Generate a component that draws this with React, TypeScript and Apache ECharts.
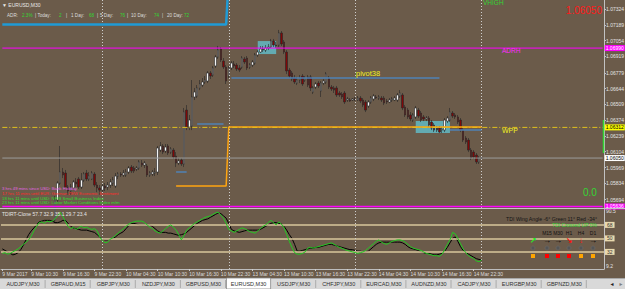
import React, { useEffect, useRef } from "react";
import * as echarts from "echarts";

// ---------- DATA ----------
const opens = [
  1.05480,1.05465,1.05490,1.05475,1.05500,1.05485,1.05505,1.05490,1.05470,1.05495,
  1.05515,1.05500,1.05485,1.05505,1.05520,1.05500,1.05480,1.05505,1.05495,1.05460,
  1.05520,1.05691,1.05836,1.05930,1.05922,1.05802,1.05768,1.05794,1.05845,1.05871,
  1.05802,1.05862,1.05922,1.05871,1.05871,1.05913,1.05819,1.05794,1.05776,1.05811,
  1.05802,1.05819,1.05836,1.05811,1.05896,1.05913,1.05905,1.05905,1.05930,1.05973,
  1.05965,1.05956,1.05965,1.06007,1.05990,1.05982,1.05905,1.05913,1.05922,1.05930,
  1.06118,1.06153,1.06110,1.06153,1.06101,1.06118,1.06067,1.06007,1.06033,1.05999,
  1.06460,1.06315,1.06324,1.06572,1.06580,1.06649,1.06674,1.06700,1.06708,1.06777,
  1.06760,1.06837,1.06914,1.06982,1.06879,1.06828,1.06751,1.06820,1.06854,1.06845,
  1.06820,1.06828,1.06897,1.06905,1.06828,1.06845,1.06862,1.06931,1.06956,1.06982,
  1.06973,1.06991,1.06999,1.07050,1.07016,1.07016,1.07119,1.07042,1.06956,1.06802,
  1.06777,1.06734,1.06691,1.06717,1.06751,1.06717,1.06743,1.06743,1.06614,1.06657,
  1.06691,1.06623,1.06691,1.06700,1.06734,1.06657,1.06649,1.06649,1.06606,1.06597,
  1.06606,1.06546,1.06546,1.06546,1.06555,1.06546,1.06563,1.06546,1.06529,1.06495,
  1.06529,1.06555,1.06572,1.06563,1.06563,1.06563,1.06537,1.06529,1.06546,1.06546,
  1.06546,1.06580,1.06589,1.06486,1.06460,1.06418,1.06375,1.06401,1.06460,1.06435,
  1.06401,1.06384,1.06392,1.06358,1.06332,1.06307,1.06307,1.06289,1.06289,1.06366,
  1.06375,1.06435,1.06418,1.06401,1.06375,1.06289,1.06221,1.06204,1.06118,1.06101,
  1.06076,1.06016,1.06050,
];
const closes = [
  1.05465,1.05490,1.05475,1.05500,1.05485,1.05505,1.05490,1.05470,1.05495,1.05515,
  1.05500,1.05485,1.05505,1.05520,1.05500,1.05480,1.05505,1.05495,1.05460,1.05520,
  1.05691,1.05836,1.05930,1.05905,1.05802,1.05768,1.05802,1.05845,1.05828,1.05802,
  1.05862,1.05913,1.05871,1.05896,1.05922,1.05819,1.05794,1.05776,1.05811,1.05794,
  1.05819,1.05845,1.05862,1.05896,1.05913,1.05905,1.05922,1.05930,1.05965,1.05939,
  1.05939,1.05965,1.06016,1.05990,1.06007,1.05905,1.05922,1.05930,1.05930,1.06136,
  1.06153,1.06101,1.06144,1.06093,1.06127,1.06059,1.06007,1.06025,1.05999,1.06443,
  1.06315,1.06375,1.06572,1.06614,1.06649,1.06683,1.06700,1.06717,1.06777,1.06751,
  1.06820,1.06914,1.06973,1.06888,1.06828,1.06708,1.06820,1.06862,1.06837,1.06811,
  1.06802,1.06905,1.06871,1.06820,1.06845,1.06871,1.06931,1.06956,1.06982,1.06973,
  1.06991,1.06999,1.07050,1.07016,1.07008,1.07119,1.07025,1.06956,1.06794,1.06751,
  1.06726,1.06700,1.06717,1.06734,1.06683,1.06734,1.06674,1.06649,1.06649,1.06683,
  1.06666,1.06691,1.06708,1.06768,1.06657,1.06640,1.06631,1.06589,1.06589,1.06572,
  1.06529,1.06555,1.06537,1.06555,1.06546,1.06563,1.06537,1.06503,1.06460,1.06529,
  1.06563,1.06580,1.06563,1.06572,1.06546,1.06520,1.06529,1.06546,1.06555,1.06563,
  1.06589,1.06606,1.06478,1.06418,1.06401,1.06384,1.06418,1.06478,1.06409,1.06375,
  1.06384,1.06392,1.06332,1.06307,1.06289,1.06289,1.06272,1.06298,1.06375,1.06392,
  1.06443,1.06409,1.06401,1.06358,1.06289,1.06204,1.06187,1.06118,1.06050,1.06059,
  1.06016,1.06050,1.06050,
];
const highs = [
  1.05500,1.05505,1.05510,1.05515,1.05520,1.05525,1.05520,1.05505,1.05510,1.05530,
  1.05535,1.05515,1.05520,1.05540,1.05535,1.05515,1.05520,1.05525,1.05510,1.05560,
  1.05725,1.05853,1.06153,1.05965,1.05948,1.05819,1.05828,1.05862,1.05879,1.05888,
  1.05922,1.05930,1.05948,1.05930,1.05939,1.05930,1.05845,1.05819,1.05828,1.05836,
  1.05845,1.05871,1.05888,1.05922,1.05930,1.05930,1.05948,1.05956,1.05982,1.05990,
  1.05982,1.05982,1.06033,1.06033,1.06025,1.05999,1.05939,1.05948,1.05965,1.06153,
  1.06187,1.06170,1.06170,1.06170,1.06144,1.06136,1.06101,1.06050,1.06050,1.06478,
  1.06503,1.06418,1.06717,1.06649,1.06674,1.06717,1.06734,1.06751,1.06794,1.06794,
  1.06837,1.06931,1.07008,1.06999,1.06905,1.06845,1.06837,1.06879,1.06879,1.06862,
  1.06845,1.06922,1.06914,1.06922,1.06862,1.06888,1.06948,1.06973,1.07008,1.07008,
  1.07016,1.07025,1.07068,1.07068,1.07042,1.07145,1.07136,1.07059,1.06973,1.06820,
  1.06794,1.06760,1.06743,1.06760,1.06768,1.06751,1.06760,1.06760,1.06666,1.06700,
  1.06708,1.06708,1.06726,1.06785,1.06751,1.06674,1.06666,1.06666,1.06623,1.06614,
  1.06623,1.06572,1.06563,1.06563,1.06572,1.06580,1.06580,1.06563,1.06546,1.06546,
  1.06580,1.06597,1.06589,1.06589,1.06580,1.06580,1.06555,1.06563,1.06572,1.06580,
  1.06606,1.06631,1.06606,1.06503,1.06478,1.06443,1.06435,1.06495,1.06478,1.06452,
  1.06418,1.06409,1.06409,1.06375,1.06349,1.06324,1.06324,1.06315,1.06392,1.06409,
  1.06478,1.06452,1.06435,1.06418,1.06392,1.06307,1.06238,1.06221,1.06136,1.06118,
  1.06093,1.06067,1.06050,
];
const lows = [
  1.05450,1.05455,1.05460,1.05465,1.05470,1.05475,1.05475,1.05455,1.05460,1.05485,
  1.05490,1.05470,1.05475,1.05495,1.05490,1.05465,1.05470,1.05480,1.05420,1.05380,
  1.05500,1.05674,1.05819,1.05879,1.05776,1.05734,1.05734,1.05776,1.05802,1.05785,
  1.05785,1.05845,1.05853,1.05853,1.05862,1.05802,1.05759,1.05734,1.05751,1.05768,
  1.05776,1.05794,1.05811,1.05794,1.05871,1.05888,1.05888,1.05888,1.05913,1.05922,
  1.05922,1.05939,1.05948,1.05973,1.05965,1.05888,1.05888,1.05896,1.05896,1.05905,
  1.06101,1.06084,1.06093,1.06076,1.06084,1.06042,1.05973,1.05990,1.05982,1.05973,
  1.06289,1.06289,1.06289,1.06546,1.06563,1.06631,1.06657,1.06683,1.06691,1.06726,
  1.06743,1.06820,1.06897,1.06871,1.06811,1.06683,1.06734,1.06802,1.06820,1.06794,
  1.06785,1.06811,1.06854,1.06802,1.06811,1.06828,1.06845,1.06914,1.06948,1.06956,
  1.06956,1.06973,1.06991,1.06999,1.06991,1.06999,1.07008,1.06939,1.06768,1.06734,
  1.06708,1.06683,1.06674,1.06691,1.06666,1.06700,1.06657,1.06623,1.06597,1.06640,
  1.06649,1.06572,1.06674,1.06683,1.06640,1.06623,1.06606,1.06572,1.06572,1.06555,
  1.06512,1.06529,1.06529,1.06537,1.06537,1.06537,1.06520,1.06486,1.06443,1.06478,
  1.06512,1.06537,1.06555,1.06546,1.06529,1.06503,1.06512,1.06520,1.06529,1.06537,
  1.06529,1.06563,1.06460,1.06401,1.06384,1.06366,1.06358,1.06384,1.06392,1.06358,
  1.06366,1.06366,1.06315,1.06289,1.06272,1.06272,1.06264,1.06264,1.06272,1.06349,
  1.06358,1.06392,1.06384,1.06341,1.06272,1.06187,1.06170,1.06101,1.06033,1.06042,
  1.05999,1.05999,1.06042,
];

const tdiGreen = [
  30,31,29,30,32,34,36,39,42,45,
  48,53,60,66,71,72,70,73,72,73,
  76,80,85,79,72,66,63,65,62,64,
  66,64,65,63,62,63,60,52,47,44,
  45,49,51,54,57,60,63,66,69,71,
  72,73,73,73,71,68,65,63,60,58,
  57,60,63,66,68,65,61,55,48,54,
  61,64,67,70,72,74,76,78,79,80,
  82,84,85,81,77,70,62,60,58,60,
  62,64,63,61,59,58,57,60,63,66,
  68,71,74,71,68,72,69,64,55,46,
  38,31,29,29,30,32,37,38,37,38,
  39,40,41,42,43,44,42,40,38,37,
  35,34,33,32,31,30,31,32,34,37,
  40,43,46,48,45,43,42,44,46,47,
  48,48,47,45,42,39,37,36,35,34,
  32,30,29,28,27,27,26,29,35,42,
  48,58,56,50,43,36,31,27,25,23,
  20,19,21,
];
const tdiSignal = [
  36,34,32,30,28,29,31,35,41,48,
  55,60,64,68,72,73,74,74,74,73,
  71,71,72,74,74,70,66,64,63,62,
  61,61,61,60,59,58,55,52,49,48,
  48,49,50,52,55,57,59,63,67,70,
  70,69,68,68,68,68,68,66,63,60,
  58,58,58,57,57,56,55,54,55,56,
  58,61,64,67,70,72,74,75,76,78,
  80,82,84,83,80,77,70,62,60,59,
  58,59,60,61,61,61,61,61,62,64,
  66,68,70,71,71,70,69,66,61,55,
  50,42,33,33,34,35,36,37,37,38,
  38,39,40,41,42,42,41,40,39,38,
  37,36,35,35,34,33,33,32,32,33,
  36,39,42,44,45,45,45,45,45,45,
  45,45,44,42,39,37,36,35,34,32,
  31,30,30,29,28,28,29,30,33,38,
  44,50,52,46,39,34,31,29,27,25,
  23,22,21,
];

const priceTicks = [1.07324,1.07189,1.07054,1.06919,1.06779,1.06644,1.06509,1.06374,1.06239,1.06104,1.05969,1.05834,1.05694];
const priceMin = 1.05623;
const priceMax = 1.07401;
const tdiMin = 9.2;
const tdiMax = 90.5;
const tdiLevels = [68, 50, 32];
const tdiEdgeTicks = [90.5, 9.2];

const xTickIndex = [0,11,23,35,47,59,71,83,95,107,119,131,143,155,167,179];
const xTickLabels = ["9 Mar 2017","9 Mar 10:30","9 Mar 16:30","9 Mar 22:30","10 Mar 04:30","10 Mar 10:30","10 Mar 16:30","10 Mar 22:30","13 Mar 04:30","13 Mar 10:30","13 Mar 16:30","13 Mar 22:30","14 Mar 04:30","14 Mar 10:30","14 Mar 16:30","14 Mar 22:30"];
const daySeparators = [38, 86, 134, 182];
const SLOT_COUNT = 229;

const adrHigh = 1.06990;
const weeklyPivot = 1.06312;
const bidPrice = 1.06050;
const adrLow = 1.05636;

const weeklyHighLine = [[0, 1.07192], [85, 1.07192], [86, 1.07600]];
const dailyOpenLine = [[66, 1.05811], [85, 1.05811], [86, 1.06315], [182, 1.06315]];
const pivotSegments = [
  [[66, 1.05930], [70, 1.05930]],
  [[74, 1.06341], [84, 1.06341]],
  [[87, 1.06734], [166, 1.06734]],
  [[170, 1.06289], [182, 1.06289]],
];
const zoneBoxes = [
  [97, 104, 1.07050, 1.06939],
  [157, 170, 1.06366, 1.06264],
];

const adrItems = [
  ["ADR:", "l"], ["2.3%", "g"], ["| Today:", "l"], ["2", "g"], ["|", "l"], ["1 Day:", "l"], ["68", "g"],
  ["|", "l"], ["5 Day:", "l"], ["76", "g"], ["|", "l"], ["10 Day:", "l"], ["74", "g"], ["|", "l"], ["20 Day:", "l"], ["72", "g"],
];
const newsLines = [
  "3 hrs 49 mins since USD: Bank Holiday",
  "17 hrs 11 mins until EUR: German ZEW Economic Sentiment",
  "18 hrs 11 mins until USD: NFIB Small Business Index",
  "23 hrs 11 mins until USD: Labor Market Conditions Index m/m",
];
const tdiHeader = "TDIRT-Clone 57.7 32.9 35.1 29.7 23.4";
const tdiWing = "TDI Wing Angle -6° Green 11° Red -34°";
const tdiCross = "TDI Crossed UP 0%";
const tfNames = ["", "M15", "M30", "H1", "H4", "D1"];
const tfArrows = ["↗", "→", "→", "↘", "↓", "→"];
const tfArrowKind = ["up", "flat", "flat", "down", "down", "flat"];
const tfSquareKind = ["warn", "bad", "bad", "bad", "warn", "warn"];
const tabNames = ["AUDJPY,M30","GBPAUD,M15","GBPJPY,M30","NZDJPY,M30","GBPUSD,M30","EURUSD,M30","USDJPY,M30","CHFJPY,M30","EURCAD,M30","AUDNZD,M30","CADJPY,M30","EURGBP,M30","GBPNZD,M30"];
const activeTab = 5;

// ---------- STYLE / LAYOUT ----------
const FONT = '"Liberation Sans", "DejaVu Sans", Arial, sans-serif';
const BG = "#6b5b4a";
const LIGHT = "#dcdcdc";
const GREEN = "#33d633";

function txt(x: number, y: number, text: string, fill: string, size: number, align = "left", weight = "normal") {
  return {
    type: "text", x, y, z: 100, silent: true,
    style: { text, fill, fontSize: size, fontFamily: FONT, fontWeight: weight, align, verticalAlign: "middle" },
  };
}

export default function App() {
  const ref = useRef<HTMLDivElement>(null);

  useEffect(() => {
    if (!ref.current) return;
    const chart = echarts.init(ref.current, null, { renderer: "svg" });

    const slots = Array.from({ length: SLOT_COUNT }, (_, i) => String(i));
    const labelMap: Record<number, string> = {};
    xTickIndex.forEach((idx, k) => (labelMap[idx] = xTickLabels[k]));
    const tickFn = (idx: number) => labelMap[idx] !== undefined;

    const candles = opens.map((o, i) => [o, closes[i], lows[i], highs[i]]);

    const sepLine = { color: "#cfcfcf", width: 1, type: [1, 2] };

    const levelSeries = (value: number, color: string, width: number, type: any, boxBg: string, boxText: string) => ({
      type: "line", xAxisIndex: 0, yAxisIndex: 0, silent: true, z: 6,
      data: [[0, value], [SLOT_COUNT - 1, value]],
      showSymbol: false, symbol: "none",
      lineStyle: { color, width, type },
      endLabel: {
        show: true, distance: 2, fontSize: 5, fontFamily: FONT, padding: [1, 1, 0, 1],
        backgroundColor: boxBg, color: boxText, formatter: () => value.toFixed(5),
      },
    });

    const graphic: any[] = [];
    graphic.push({ type: "line", z: 90, silent: true, shape: { x1: 0, y1: 208.5, x2: 625, y2: 208.5 }, style: { stroke: "#c4c4c4", lineWidth: 1 } });
    graphic.push({ type: "line", z: 90, silent: true, shape: { x1: 603.5, y1: 120, x2: 603.5, y2: 153 }, style: { stroke: GREEN, lineWidth: 1.5 } });

    graphic.push(txt(2, 5, "▼ EURUSD,M30", "#e8e8e8", 5));
    const adrX = [7, 22, 35, 59, 66, 71, 89, 97, 100, 120, 127, 131, 154, 162, 167, 184];
    adrItems.forEach(([t, k], i) => graphic.push(txt(adrX[i], 15, t, k === "g" ? GREEN : LIGHT, 4.6)));

    const newsColors = ["#e266e2", "#ff2a2a", "#2ede2e", "#2ede2e"];
    newsLines.forEach((t, i) => graphic.push(txt(2, 188.5 + i * 4.8, t, newsColors[i], 4.3)));

    graphic.push(txt(356, 73, "pivot38", "#f2f21e", 7.5));
    graphic.push(txt(502, 130.5, "WPP", "#f2f21e", 7));
    graphic.push(txt(502, 50, "ADRH", "#ff2aff", 6.5));
    graphic.push(txt(483, 2, "VHIGH", GREEN, 6.5));
    graphic.push(txt(602, 10, "1.06050", "#ff1a1a", 10, "right"));
    graphic.push(txt(583, 192, "0.0", GREEN, 10));

    graphic.push(txt(2, 214, tdiHeader, "#e6e6e6", 5));
    graphic.push(txt(597, 219, tdiWing, "#151515", 5.2, "right"));
    graphic.push(txt(597, 225, tdiCross, GREEN, 5, "right"));
    const colX = [533, 547, 558, 569, 581, 593];
    const arrowColor: Record<string, string> = { up: "#22ee22", flat: "#000000", down: "#ff1010" };
    const squareColor: Record<string, string> = { warn: "#ffa500", bad: "#ff0000" };
    tfNames.forEach((n, i) => {
      if (n) graphic.push(txt(colX[i], 233, n, "#111111", 5, "center"));
      graphic.push(txt(colX[i], 240.5, tfArrows[i], arrowColor[tfArrowKind[i]], 8, "center", "bold"));
      graphic.push({ type: "circle", z: 100, silent: true, shape: { cx: colX[i], cy: 248, r: 2 }, style: { fill: "#555555", stroke: "#6e6e6e", lineWidth: 0.5 } });
      graphic.push({ type: "rect", z: 100, silent: true, shape: { x: colX[i] - 2, y: 254, width: 4, height: 4 }, style: { fill: squareColor[tfSquareKind[i]] } });
    });

    graphic.push({ type: "rect", z: 95, silent: true, shape: { x: 0, y: 278, width: 625, height: 11 }, style: { fill: "#d9d9d9" } });
    graphic.push({ type: "line", z: 96, silent: true, shape: { x1: 0, y1: 278.5, x2: 625, y2: 278.5 }, style: { stroke: "#a8a8a8", lineWidth: 1 } });
    const tabW = 45.1;
    tabNames.forEach((name, k) => {
      const x = 1 + k * tabW;
      if (k === activeTab) {
        graphic.push({ type: "rect", z: 97, silent: true, shape: { x: x, y: 278, width: tabW - 1, height: 11 }, style: { fill: "#ffffff", stroke: "#8a8a8a", lineWidth: 0.8 } });
      } else {
        graphic.push({ type: "line", z: 96, silent: true, shape: { x1: x + tabW - 1, y1: 280, x2: x + tabW - 1, y2: 288 }, style: { stroke: "#a0a0a0", lineWidth: 0.8 } });
      }
      graphic.push(txt(x + (tabW - 1) / 2, 284, name, "#303030", 5.5, "center"));
    });
    graphic.push(txt(612, 284, "◄", "#202020", 5, "center"));
    graphic.push(txt(621, 284, "►", "#808080", 5, "center"));

    const lineSeries = (data: any[], color: string, width: number, z = 4, extra: any = {}) => ({
      type: "line", xAxisIndex: 0, yAxisIndex: 0, data, showSymbol: false, symbol: "none", silent: true, z,
      lineStyle: { color, width }, ...extra,
    });

    const option: any = {
      animation: false,
      backgroundColor: BG,
      grid: [
        { left: 1, top: 0, width: 603, height: 208, containLabel: false, outerBoundsMode: "none" },
        { left: 1, top: 208, width: 603, height: 61, containLabel: false, outerBoundsMode: "none" },
      ],
      xAxis: [
        { type: "category", gridIndex: 0, data: slots, boundaryGap: true, show: false },
        {
          type: "category", gridIndex: 1, data: slots, boundaryGap: true,
          axisLine: { show: true, lineStyle: { color: "#bdbdbd" } },
          axisTick: { show: true, alignWithLabel: true, interval: tickFn, length: 2, lineStyle: { color: "#cfcfcf" } },
          axisLabel: {
            show: true, interval: tickFn, formatter: (v: string) => labelMap[Number(v)] ?? "",
            align: "left", fontSize: 5, color: LIGHT, margin: 2, fontFamily: FONT,
          },
          splitLine: { show: false },
        },
      ],
      yAxis: [
        {
          type: "value", gridIndex: 0, position: "right", min: priceMin, max: priceMax,
          axisLine: { show: true, onZero: false, lineStyle: { color: "#c2c2c2" } },
          axisTick: { show: true, customValues: priceTicks, length: 2, lineStyle: { color: "#c2c2c2" } },
          axisLabel: { show: true, customValues: priceTicks, formatter: (v: number) => v.toFixed(5), fontSize: 5, color: "#e4e4e4", margin: 2, fontFamily: FONT },
          splitLine: { show: false },
        },
        {
          type: "value", gridIndex: 1, position: "right", min: tdiMin, max: tdiMax,
          axisLine: { show: true, onZero: false, lineStyle: { color: "#c2c2c2" } },
          axisTick: { show: false },
          axisLabel: {
            show: true, customValues: tdiEdgeTicks, margin: 2,
            formatter: (v: number) => (v > 50 ? `{t|${v}}` : `{b|${v}}`),
            rich: {
              t: { fontSize: 5, color: "#e4e4e4", fontFamily: FONT, padding: [6, 0, 0, 0] },
              b: { fontSize: 5, color: "#e4e4e4", fontFamily: FONT, padding: [0, 0, 6, 0] },
            },
          },
          splitLine: { show: false },
        },
      ],
      series: [
        lineSeries([[zoneBoxes[0][0], zoneBoxes[0][2]]], "rgba(0,0,0,0)", 0, 1, {
          markArea: {
            silent: true,
            itemStyle: { color: "rgba(98,186,196,0.85)" },
            data: zoneBoxes.map((b) => [{ xAxis: b[0], yAxis: b[2] }, { xAxis: b[1], yAxis: b[3] }]),
          },
        }),
        {
          type: "candlestick", xAxisIndex: 0, yAxisIndex: 0, data: candles, barWidth: 2, z: 3, silent: true, clip: true,
          itemStyle: { color: "#f4f4f4", color0: "#800808", borderColor: "#262626", borderColor0: "#262626", borderWidth: 0.6 },
          markLine: {
            silent: true, symbol: ["none", "none"], animation: false, label: { show: false },
            lineStyle: sepLine,
            data: daySeparators.map((i) => ({ xAxis: i })),
          },
        },
        levelSeries(adrHigh, "#ff00ff", 1, "solid", "#ff00ff", "#ffffff"),
        levelSeries(weeklyPivot, "#e2c21c", 1, [5, 2, 1, 2], "#ffff00", "#000000"),
        levelSeries(bidPrice, "#9c9c9c", 1, "solid", "#ffffff", "#000000"),
        levelSeries(adrLow, "#ff00ff", 1.5, "solid", "#ff00ff", "#ffffff"),
        lineSeries(weeklyHighLine, "#1f9bd6", 2.5, 5),
        lineSeries(dailyOpenLine, "#ffa511", 1.5, 5),
        ...pivotSegments.map((seg) => lineSeries(seg, "#4f82b6", 1.5, 5)),
        {
          type: "line", xAxisIndex: 1, yAxisIndex: 1, data: tdiGreen, showSymbol: false, symbol: "none", silent: true, z: 5,
          lineStyle: { color: "#22cc22", width: 1 },
          markLine: {
            silent: true, symbol: ["none", "none"], animation: false,
            lineStyle: { color: "#d8c79c", width: 1.5, type: "solid" },
            label: {
              show: true, position: "end", distance: 1, fontSize: 5, padding: [1, 2, 0, 2], fontFamily: FONT,
              backgroundColor: "#e9d9ad", color: "#333333", formatter: (p: any) => String(p.value),
            },
            data: [
              ...tdiLevels.map((v) => ({ yAxis: v })),
              ...daySeparators.map((i) => ({ xAxis: i, lineStyle: sepLine, label: { show: false } })),
            ],
          },
        },
        {
          type: "line", xAxisIndex: 1, yAxisIndex: 1, data: tdiSignal, showSymbol: false, symbol: "none", silent: true, z: 4,
          lineStyle: { color: "#000000", width: 1 },
        },
      ],
      graphic,
    };

    chart.setOption(option);
    return () => chart.dispose();
  }, []);

  return <div ref={ref} style={{ position: "absolute", left: 0, top: 0, width: 625, height: 289 }} />;
}
